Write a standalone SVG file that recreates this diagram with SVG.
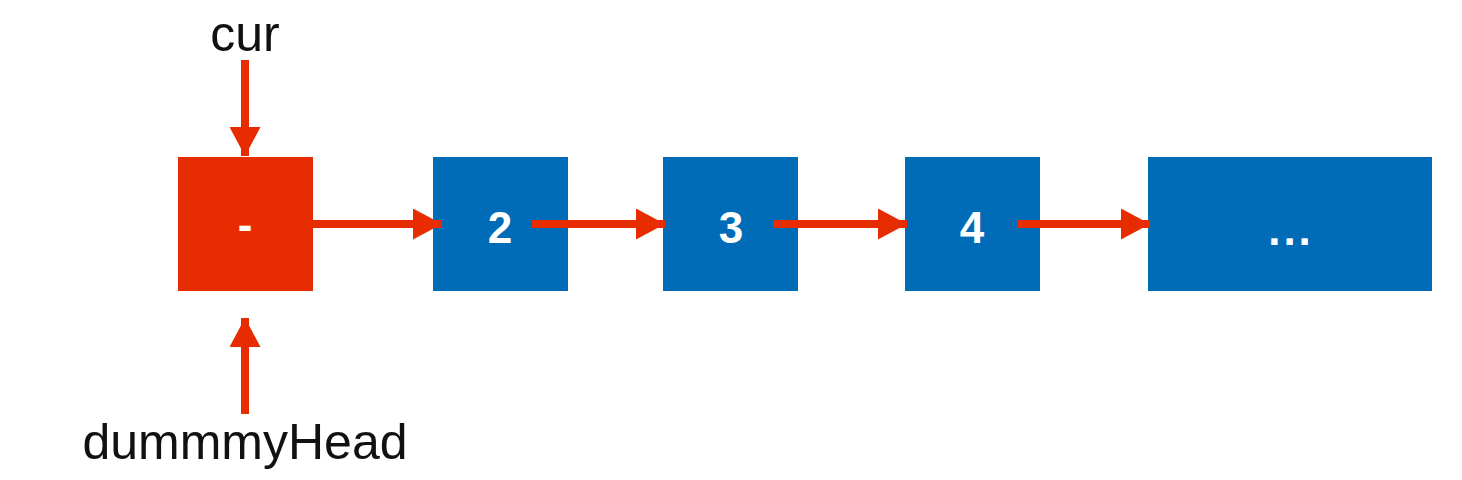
<svg xmlns="http://www.w3.org/2000/svg" width="1462" height="480" viewBox="0 0 1462 480">
<style>
.red{fill:#E62C00}
.blue{fill:#006BB6}
.val{font-family:"Liberation Sans",Arial,sans-serif;font-weight:bold;font-size:44px;fill:#ffffff;text-anchor:middle}
.lbl{font-family:"Liberation Sans",Arial,sans-serif;font-size:50px;fill:#111111;text-anchor:middle}
.conn{stroke:#E62C00;stroke-width:8;fill:none}
</style>
<defs>
<marker id="ah" viewBox="0 0 29 31" refX="29" refY="15.5" markerWidth="29" markerHeight="31" markerUnits="userSpaceOnUse" orient="auto">
<path d="M0,0 L29,15.5 L0,31 Z" fill="#E62C00"/>
</marker>
</defs>
<rect width="1462" height="480" fill="#ffffff"/>
<g id="node-dummy"><rect class="red" x="178" y="157" width="135" height="134"/><text class="val" x="245" y="240">-</text></g>
<g id="node-2"><rect class="blue" x="433" y="157" width="135" height="134"/><text class="val" x="500" y="243">2</text></g>
<g id="node-3"><rect class="blue" x="663" y="157" width="135" height="134"/><text class="val" x="731" y="243">3</text></g>
<g id="node-4"><rect class="blue" x="905" y="157" width="135" height="134"/><text class="val" x="972" y="243">4</text></g>
<g id="node-more"><rect class="blue" x="1148" y="157" width="284" height="134"/><text class="val" x="1291" y="245" letter-spacing="3">...</text></g>
<g id="label-cur"><text class="lbl" x="245" y="51">cur</text></g>
<g id="label-dummy"><text class="lbl" x="245" y="459">dummmyHead</text></g>
<g id="connectors">
<line class="conn" x1="245" y1="60" x2="245" y2="156" marker-end="url(#ah)"/>
<line class="conn" x1="245" y1="414" x2="245" y2="318" marker-end="url(#ah)"/>
<line class="conn" x1="313" y1="224" x2="442" y2="224" marker-end="url(#ah)"/>
<line class="conn" x1="532" y1="224" x2="665" y2="224" marker-end="url(#ah)"/>
<line class="conn" x1="773" y1="224" x2="907" y2="224" marker-end="url(#ah)"/>
<line class="conn" x1="1017" y1="224" x2="1150" y2="224" marker-end="url(#ah)"/>
</g>
</svg>
